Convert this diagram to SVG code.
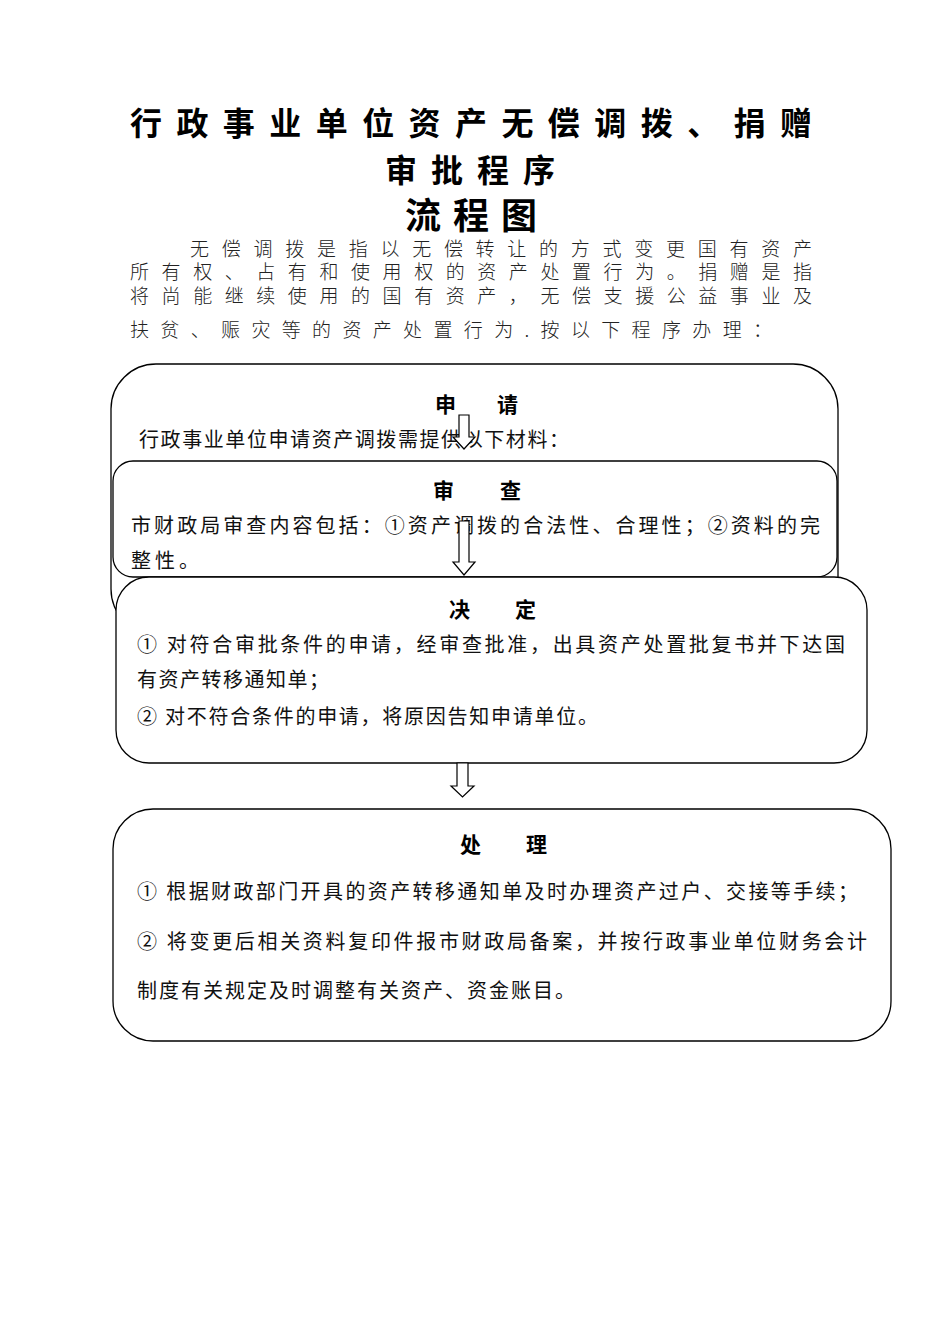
<svg xmlns="http://www.w3.org/2000/svg" width="950" height="1344" viewBox="0 0 950 1344">
<style>
.title{font-family:"Noto Sans CJK SC","Liberation Sans",sans-serif;font-weight:bold;fill:#000}
.para{font-family:"Noto Sans CJK SC","Liberation Sans",sans-serif;font-weight:300;font-size:19px;fill:#222}
.box{fill:#fff;stroke:#000;stroke-width:1.3}
.head{font-family:"Noto Sans CJK SC","Liberation Sans",sans-serif;font-weight:bold;font-size:21px;fill:#000}
.body{font-family:"Noto Sans CJK SC","Liberation Sans",sans-serif;font-weight:400;font-size:20px;fill:#111}
.arrow{fill:#fff;stroke:#000;stroke-width:1.2}
</style>
<rect width="950" height="1344" fill="#fff"/>
<g id="title">
<text class="title" x="130" y="135" font-size="32" textLength="682" lengthAdjust="spacing">行政事业单位资产无偿调拨、捐赠</text>
<text class="title" x="385" y="182" font-size="32" textLength="170" lengthAdjust="spacing">审批程序</text>
<text class="title" x="405" y="229" font-size="36" textLength="132" lengthAdjust="spacing">流程图</text>
</g>
<g id="intro">
<text class="para" x="190" y="256" textLength="622" lengthAdjust="spacing">无偿调拨是指以无偿转让的方式变更国有资产</text>
<text class="para" x="130" y="279" textLength="682" lengthAdjust="spacing">所有权、占有和使用权的资产处置行为。捐赠是指</text>
<text class="para" x="130" y="303" textLength="682" lengthAdjust="spacing">将尚能继续使用的国有资产，无偿支援公益事业及</text>
<text class="para" x="130" y="337" textLength="642" lengthAdjust="spacing">扶贫、赈灾等的资产处置行为.按以下程序办理：</text>
</g>
<g id="node-apply">
<rect class="box" x="111" y="364" width="727" height="270" rx="45" ry="45"/>
<text class="head" x="435" y="412" textLength="83" lengthAdjust="spacing">申请</text>
<text class="body" x="139" y="447" textLength="430" lengthAdjust="spacing">行政事业单位申请资产调拨需提供以下材料：</text>
</g>
<g id="node-review">
<rect class="box" x="113" y="461" width="724" height="116" rx="20" ry="20"/>
<text class="head" x="433" y="498" textLength="88" lengthAdjust="spacing">审查</text>
<text class="body" x="131" y="533" textLength="689" lengthAdjust="spacing">市财政局审查内容包括：①资产调拨的合法性、合理性；②资料的完</text>
<text class="body" x="131" y="568" textLength="68" lengthAdjust="spacing">整性。</text>
</g>
<g id="node-decide">
<rect class="box" x="116" y="577" width="751" height="186" rx="33" ry="33"/>
<text class="head" x="449" y="617" textLength="87" lengthAdjust="spacing">决定</text>
<text class="body" x="137" y="652" textLength="708" lengthAdjust="spacing">① 对符合审批条件的申请，经审查批准，出具资产处置批复书并下达国</text>
<text class="body" x="137" y="687" textLength="192" lengthAdjust="spacing">有资产转移通知单；</text>
<text class="body" x="137" y="724" textLength="461" lengthAdjust="spacing">② 对不符合条件的申请，将原因告知申请单位。</text>
</g>
<g id="node-handle">
<rect class="box" x="113" y="809" width="778" height="232" rx="40" ry="40"/>
<text class="head" x="460" y="852" textLength="87" lengthAdjust="spacing">处理</text>
<text class="body" x="137" y="899" textLength="721" lengthAdjust="spacing">① 根据财政部门开具的资产转移通知单及时办理资产过户、交接等手续；</text>
<text class="body" x="137" y="949" textLength="730" lengthAdjust="spacing">② 将变更后相关资料复印件报市财政局备案，并按行政事业单位财务会计</text>
<text class="body" x="137" y="998" textLength="438" lengthAdjust="spacing">制度有关规定及时调整有关资产、资金账目。</text>
</g>
<g id="connectors">
<path class="arrow" d="M459,415 L469,415 L469,437 L475,437 L464,449 L453,437 L459,437 Z"/>
<path class="arrow" d="M459,521 L469,521 L469,562 L475,562 L464,575 L453,562 L459,562 Z"/>
<path class="arrow" d="M457,763 L468,763 L468,786 L474,786 L462.5,797 L451,786 L457,786 Z"/>
</g>
</svg>
